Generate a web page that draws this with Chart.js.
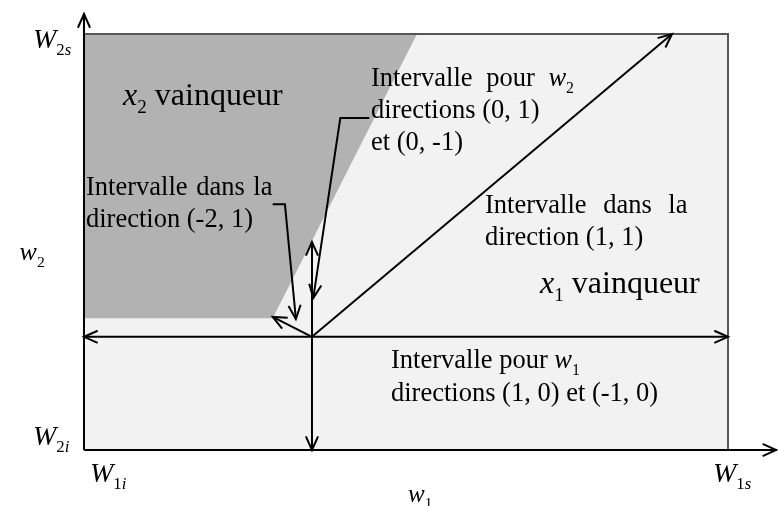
<!DOCTYPE html>
<html>
<head>
<meta charset="utf-8">
<script src="https://cdn.jsdelivr.net/npm/chart.js@4"></script>
<style>
  body { margin: 0; background: #fff; }
</style>
</head>
<body>
<canvas id="c" width="778" height="506"></canvas>
<script>
// domaine des poids (W1i..W1s, W2i..W2s)
const w1Bounds = [0, 10];
const w2Bounds = [0, 10];
const viewX = [-1.304, 10.776];
const viewY = [-1.346, 10.817];
const axisTip = [10.75, 10.48];

// point courant et zone "x2 vainqueur"
const current = [3.54, 2.72];
const x2ZoneX = [0, 5.17, 2.93, 0];
const x2ZoneY = [10, 10, 3.17, 3.17];

// extremites des intervalles : w1+, w1-, w2+, w2-, (1,1), (-2,1)
const dirEndX = [10, 0, 3.54, 3.54, 9.13, 2.93];
const dirEndY = [2.72, 2.72, 5.0, 0, 10, 3.2];

// traits de renvoi des legendes
const calloutW2X = [4.43, 3.98, 3.56];
const calloutW2Y = [7.98, 7.98, 3.65];
const calloutDirX = [2.93, 3.12, 3.29];
const calloutDirY = [5.91, 5.91, 3.15];

// textes : [texte, style]  i = italique, s = indice, si = indice italique
const labels = [
  { x: -0.792, y: 9.663, size: 28, lines: [[['W', 'i'], ['2', 's'], ['s', 'si']]] },
  { x: -0.792, y: 0.12, size: 28, lines: [[['W', 'i'], ['2', 's'], ['i', 'si']]] },
  { x: 0.093, y: -0.769, size: 28, lines: [[['W', 'i'], ['1', 's'], ['i', 'si']]] },
  { x: 9.767, y: -0.769, size: 28, lines: [[['W', 'i'], ['1', 's'], ['s', 'si']]] },
  { x: 5.031, y: -1.25, size: 25, lines: [[['w', 'i'], ['1', 's']]] },
  { x: -1.0, y: 4.567, size: 26, lines: [[['w', 'i'], ['2', 's']]] },
  { x: 0.606, y: 8.293, size: 32, lines: [[['x', 'i'], ['2', 's'], [' vainqueur', '']]] },
  { x: 7.081, y: 3.774, size: 32, lines: [[['x', 'i'], ['1', 's'], [' vainqueur', '']]] },
  { x: 4.457, y: 8.75, size: 26.5, lead: 32, lines: [
      [['Intervalle pour ', ''], ['w', 'i'], ['2', 's']],
      [['directions (0, 1)', '']],
      [['et (0, -1)', '']]
    ], space: [7, 0, 0] },
  { x: 0.031, y: 6.13, size: 26.5, lead: 32, lines: [
      [['Intervalle dans la', '']],
      [['direction (-2, 1)', '']]
    ], space: [2, 0] },
  { x: 6.227, y: 5.697, size: 26.5, lead: 32, lines: [
      [['Intervalle dans la', '']],
      [['direction (1, 1)', '']]
    ], space: [10, 0] },
  { x: 4.767, y: 1.971, size: 26.5, lead: 33, lines: [
      [['Intervalle pour ', ''], ['w', 'i'], ['1', 's']],
      [['directions (1, 0) et (-1, 0)', '']]
    ], space: [0, 0] }
];

function pts(xs, ys) {
  return xs.map((v, i) => ({ x: v, y: ys[i] }));
}

const box = pts([w1Bounds[0], w1Bounds[1], w1Bounds[1], w1Bounds[0]],
                [w2Bounds[0], w2Bounds[0], w2Bounds[1], w2Bounds[1]]);

const datasets = [];
datasets.push({ data: box, fill: 'shape', backgroundColor: '#f2f2f2', borderWidth: 0, order: 9 });
datasets.push({ data: pts(x2ZoneX, x2ZoneY), fill: 'shape', backgroundColor: '#b2b2b2', borderWidth: 0, order: 8 });
datasets.push({ data: pts([w1Bounds[0], w1Bounds[1], w1Bounds[1]], [w2Bounds[1], w2Bounds[1], w2Bounds[0]]),
                borderColor: '#575757', borderWidth: 2, order: 7 });
// axes
datasets.push({ data: pts([w1Bounds[0], w1Bounds[0]], [w2Bounds[0], axisTip[1]]), arrow: true, order: 2 });
datasets.push({ data: pts([w1Bounds[0], axisTip[0]], [w2Bounds[0], w2Bounds[0]]), arrow: true, order: 2 });
// directions depuis le point courant
dirEndX.forEach((ex, i) => {
  datasets.push({ data: pts([current[0], ex], [current[1], dirEndY[i]]), arrow: true, order: 1 });
});
datasets.push({ data: pts(calloutW2X, calloutW2Y), arrow: true, order: 1 });
datasets.push({ data: pts(calloutDirX, calloutDirY), arrow: true, order: 1 });

datasets.forEach(d => {
  d.showLine = true;
  d.pointRadius = 0;
  d.tension = 0;
  if (d.borderWidth === undefined) { d.borderWidth = 2; d.borderColor = '#000'; }
});

const FONT = '"Liberation Serif", "Times New Roman", serif';

function head(ctx, tip, from) {
  const a = Math.atan2(tip.y - from.y, tip.x - from.x);
  const L = 15, h = 24 * Math.PI / 180;
  ctx.beginPath();
  ctx.moveTo(tip.x - L * Math.cos(a - h), tip.y - L * Math.sin(a - h));
  ctx.lineTo(tip.x, tip.y);
  ctx.lineTo(tip.x - L * Math.cos(a + h), tip.y - L * Math.sin(a + h));
  ctx.stroke();
}

function drawLine(ctx, segs, x, y, size, extra) {
  let cx = x;
  segs.forEach(([t, st]) => {
    const sub = st.indexOf('s') >= 0;
    const it = st.indexOf('i') >= 0;
    const sz = sub ? size * 0.6 : size;
    ctx.font = (it ? 'italic ' : '') + sz + 'px ' + FONT;
    const yy = sub ? y + size * 0.25 : y;
    const words = t.split(' ');
    words.forEach((w, k) => {
      if (k > 0) cx += ctx.measureText(' ').width + extra;
      ctx.fillText(w, cx, yy);
      cx += ctx.measureText(w).width;
    });
  });
}

const deco = {
  id: 'deco',
  afterDatasetsDraw(chart) {
    const ctx = chart.ctx;
    ctx.save();
    ctx.strokeStyle = '#000';
    ctx.lineWidth = 2;
    ctx.lineJoin = 'miter';
    chart.data.datasets.forEach((ds, i) => {
      if (!ds.arrow) return;
      const el = chart.getDatasetMeta(i).data;
      head(ctx, el[el.length - 1], el[el.length - 2]);
    });
    ctx.fillStyle = '#000';
    ctx.textBaseline = 'alphabetic';
    const sx = chart.scales.x, sy = chart.scales.y;
    labels.forEach(lb => {
      const px = sx.getPixelForValue(lb.x);
      const py = sy.getPixelForValue(lb.y);
      lb.lines.forEach((segs, k) => {
        const extra = lb.space ? lb.space[k] : 0;
        drawLine(ctx, segs, px, py + k * (lb.lead || 0), lb.size, extra);
      });
    });
    ctx.restore();
  }
};

new Chart(document.getElementById('c').getContext('2d'), {
  type: 'scatter',
  data: { datasets: datasets },
  options: {
    responsive: false,
    animation: false,
    layout: { padding: 0 },
    plugins: { legend: { display: false }, tooltip: { enabled: false } },
    scales: {
      x: { type: 'linear', display: false, min: viewX[0], max: viewX[1] },
      y: { type: 'linear', display: false, min: viewY[0], max: viewY[1] }
    }
  },
  plugins: [deco]
});
</script>
</body>
</html>
